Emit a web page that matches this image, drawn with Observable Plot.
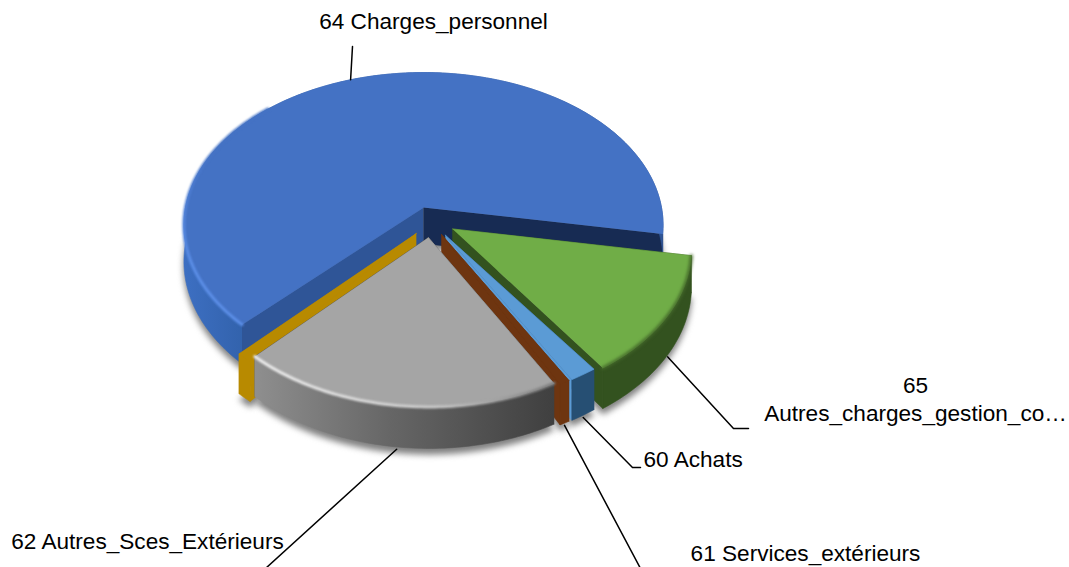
<!DOCTYPE html>
<html><head><meta charset="utf-8">
<style>html,body{margin:0;padding:0;background:#fff}svg{display:block}</style>
<script src="https://cdn.jsdelivr.net/npm/d3@7"></script>
<script src="https://cdn.jsdelivr.net/npm/@observablehq/plot@0.6"></script>
</head><body><div id="chart"></div>
<script>
// Data (share of the total, %), clockwise from the first slice
const categories = ["65 Autres_charges_gestion_courante","60 Achats","61 Services_extérieurs","62 Autres_Sces_Extérieurs","63 Impôts_taxes","64 Charges_personnel"];
const shares = [12.47,1.72,0.64,18.78,0.70,65.69];
const shownLabels = ["65\nAutres_charges_gestion_co…","60 Achats","61 Services_extérieurs","62 Autres_Sces_Extérieurs","","64 Charges_personnel"];

// Layout and style (not data)
const W=1069,H=567,startAngle=9.9;
const cam={cx:423,cy:207,a:238,b:150.5,t:0.115,h:36};
const radius=[.98,.95,.96,.955,.97,1];
const explode=[[.12,.14],[.09,.18],[.074,.176],[.02,.195],[-.03,.17],[0,0]];
const nudge=[[0,1],[0,0],[0,0],[-2.3,2.5],[-1,0],[1,0]];
const topFill=["#70AD47","#5B9BD5","#6E3510","#A5A5A5","#B88A00","#4472C4"];
const rimFill=["#33521F","#264F73","#6E3510","url(#grayWall)","#B88A00","url(#blueWall)"];
const wallA=["#33521F","#264F73","#6E3510","#404040","#B88A00","#2F5597"];
const wallB=["#33521F","#5B9BD5","#6E3510","#555555","#B88A00","#172B53"];
const paintOrder=[5,0,1,2,4,3];
const leaderAngle=[0,0,0,0,0,-1.5];
const elbows=[[[733,428],[748,428]],[[632,467],[640,467]],[[640,568]],[[265,568]],null,[[352,46]]];
const labelPos=[[915,398,"middle"],[643,458,"start"],[805,552,"middle"],[147,540,"middle"],null,[433,20,"middle"]];
const rad=d=>d*Math.PI/180;

function project(X,Y,z){const s=1/(1-cam.t*Y);return {x:cam.cx+cam.a*X*s,y:cam.cy+cam.b*Y*s+z*s};}
let acc=startAngle;
const slices=shares.map((v,i)=>{const a0=acc;acc+=v*3.6;return {i,v,a0:a0+nudge[i][0],a1:acc+nudge[i][1],mid:(a0+acc)/2,ox:explode[i][0],oy:explode[i][1],r:radius[i]};});
const rimPoint=(s,d,z)=>project(s.ox+s.r*Math.cos(rad(d)),s.oy+s.r*Math.sin(rad(d)),z);
const apex=(s,z)=>project(s.ox,s.oy,z);
const arc=(s,z,from=s.a0,to=s.a1)=>{const n=Math.max(2,Math.ceil(Math.abs(to-from)));return d3.range(n+1).map(k=>rimPoint(s,from+(to-from)*k/n,z));};

const poly=(pts,fill,extra={})=>Plot.line(pts,{x:"x",y:"y",fill,stroke:fill,strokeWidth:.6,curve:"linear",...extra});
const marks=[];
// soft shadows
for(const s of slices){
  marks.push(poly([apex(s,cam.h+5),...arc(s,cam.h+5)],"#808080",{imageFilter:"blur(3px)"}));
}
// slices, back to front
for(const i of paintOrder){
  const s=slices[i];
  marks.push(poly([apex(s,0),rimPoint(s,s.a0,0),rimPoint(s,s.a0,cam.h),apex(s,cam.h)],wallA[i]));
  marks.push(poly([apex(s,0),rimPoint(s,s.a1,0),rimPoint(s,s.a1,cam.h),apex(s,cam.h)],wallB[i]));
  marks.push(poly([...arc(s,0),...arc(s,cam.h).reverse()],rimFill[i]));
  marks.push(poly([apex(s,0),...arc(s,0)],topFill[i]));
  if(i===5) marks.push(Plot.line(arc(s,0,s.a0,225),{x:"x",y:"y",stroke:"url(#blueRim)",strokeWidth:3,curve:"linear",imageFilter:"blur(1px)"}));
  if(i===3) marks.push(Plot.line(arc(s,0),{x:"x",y:"y",stroke:"url(#grayRim)",strokeWidth:3,curve:"linear",imageFilter:"blur(1px)"}));
  if(i===0) marks.push(Plot.line(arc(s,0),{x:"x",y:"y",stroke:"#44692a",strokeWidth:3,curve:"linear",imageFilter:"blur(1.5px)"}));
}
// leader lines
slices.forEach(s=>{
  const e=elbows[s.i]; if(!e) return;
  const z=s.i===5?0:cam.h+2;
  const start=rimPoint(s,s.mid+leaderAngle[s.i],z);
  marks.push(Plot.line([start,...e.map(([x,y])=>({x,y}))],{x:"x",y:"y",stroke:"#000",strokeWidth:1.5,curve:"linear"}));
});
// labels
slices.forEach(s=>{
  const p=labelPos[s.i]; if(!p) return;
  marks.push(Plot.text([shownLabels[s.i]],{x:p[0],y:p[1],text:d=>d,textAnchor:p[2],lineAnchor:"middle",fontSize:22.6,lineHeight:1.24,fill:"#000"}));
});

const svg=Plot.plot({width:W,height:H,margin:0,
  x:{domain:[0,W],range:[0,W],axis:null},
  y:{domain:[0,H],range:[0,H],axis:null},
  style:{fontFamily:"'Liberation Sans',Arial,sans-serif",background:"#fff"},
  marks});
const defs=document.createElementNS("http://www.w3.org/2000/svg","defs");
defs.innerHTML=`
<linearGradient id="grayWall" gradientUnits="userSpaceOnUse" x1="253" x2="556" y1="0" y2="0"><stop offset="0" stop-color="#8f8f8f"/><stop offset=".45" stop-color="#666"/><stop offset="1" stop-color="#3f3f3f"/></linearGradient>
<linearGradient id="blueWall" gradientUnits="userSpaceOnUse" x1="183" x2="662" y1="0" y2="0"><stop offset="0" stop-color="#3d6fc2"/><stop offset=".15" stop-color="#3060A8"/><stop offset="1" stop-color="#2F5597"/></linearGradient>
<linearGradient id="blueRim" gradientUnits="userSpaceOnUse" x1="0" x2="0" y1="150" y2="260"><stop offset="0" stop-color="#4472C4"/><stop offset="1" stop-color="#5C8FE8"/></linearGradient>
<linearGradient id="grayRim" gradientUnits="userSpaceOnUse" x1="253" x2="556" y1="0" y2="0"><stop offset="0" stop-color="#f0f0f0"/><stop offset=".6" stop-color="#c8c8c8"/><stop offset="1" stop-color="#7a7a7a"/></linearGradient>`;
svg.insertBefore(defs,svg.firstChild);
document.getElementById("chart").appendChild(svg);
</script></body></html>
